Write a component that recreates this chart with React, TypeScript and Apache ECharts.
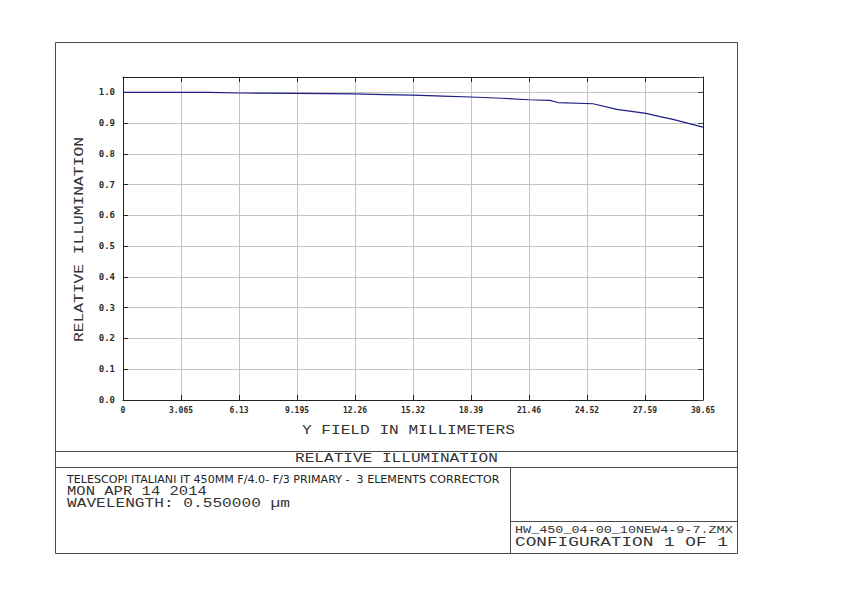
import React, { useEffect, useRef } from "react";
import * as echarts from "echarts";

// ---- data ----
const fieldMm = [0, 2.0, 4.6, 6.13, 9.195, 12.26, 13.8, 15.32, 16.9, 18.39, 20.0, 21.45, 22.56, 22.99, 24.84, 26.1, 27.64, 28.38, 29.06, 30.65];
const relIllum = [1.0, 1.0, 1.0, 0.998, 0.997, 0.995, 0.993, 0.991, 0.988, 0.985, 0.981, 0.976, 0.974, 0.967, 0.963, 0.945, 0.932, 0.921, 0.912, 0.887];
const xTickLabels = ["0", "3.065", "6.13", "9.195", "12.26", "15.32", "18.39", "21.46", "24.52", "27.59", "30.65"];
const yTickLabels = ["0.0", "0.1", "0.2", "0.3", "0.4", "0.5", "0.6", "0.7", "0.8", "0.9", "1.0"];

const xStep = 3.065;
const xMax = 30.65;
const yStep = 0.1;
const yMax = 1.05;

const titleText = "RELATIVE ILLUMINATION";
const xName = "Y FIELD IN MILLIMETERS";
const yName = "RELATIVE ILLUMINATION";
const infoLine1 = "TELESCOPI ITALIANI IT 450MM F/4.0- F/3 PRIMARY -  3 ELEMENTS CORRECTOR";
const infoLine2 = "MON APR 14 2014";
const infoLine3 = "WAVELENGTH: 0.550000 \u00b5m";
const fileLine = "HW_450_04-00_10NEW4-9-7.ZMX";
const configLine = "CONFIGURATION 1 OF 1";

const MONO = '"DejaVu Sans Mono", monospace';
const THIN = '"Liberation Mono", "DejaVu Sans Mono", monospace';
const SANS = '"DejaVu Sans", sans-serif';

let measureCtx: CanvasRenderingContext2D | null = null;
function measure(text: string, font: string): number {
  if (!measureCtx) {
    const c = document.createElement("canvas");
    measureCtx = c.getContext("2d");
  }
  if (!measureCtx) return text.length * 7;
  measureCtx.font = font;
  return measureCtx.measureText(text).width;
}

function fitText(text: string, left: number, right: number, cy: number, size: number, family: string, fill: string, rotate = false) {
  const font = `${size}px ${family}`;
  const w = measure(text, font);
  const sx = Math.abs(right - left) / w;
  return {
    type: "text",
    x: rotate ? cy : left,
    y: rotate ? left : cy,
    rotation: rotate ? Math.PI / 2 : 0,
    scaleX: sx,
    scaleY: 1,
    silent: true,
    style: {
      text,
      font,
      fill,
      textAlign: "left",
      textVerticalAlign: "middle",
      align: "left",
      verticalAlign: "middle",
    },
  };
}

function frameLine(x1: number, y1: number, x2: number, y2: number) {
  return {
    type: "line",
    silent: true,
    shape: { x1, y1, x2, y2 },
    style: { stroke: "#4a4a4a", lineWidth: 1 },
  };
}

export default function App() {
  const ref = useRef<HTMLDivElement>(null);

  useEffect(() => {
    if (!ref.current) return;
    const chart = echarts.init(ref.current, undefined, { renderer: "svg" });

    const textColor = "#333";
    const graphics: any[] = [
      {
        type: "rect",
        silent: true,
        shape: { x: 55.5, y: 42.5, width: 682, height: 511 },
        style: { fill: "none", stroke: "#4a4a4a", lineWidth: 1 },
      },
      frameLine(55.5, 451.5, 737.5, 451.5),
      frameLine(55.5, 467.5, 737.5, 467.5),
      frameLine(510.5, 467.5, 510.5, 553.5),
      frameLine(510.5, 521.5, 737.5, 521.5),
      fitText(xName, 302, 515, 430, 13, THIN, textColor),
      fitText(titleText, 295, 498, 459, 12.5, THIN, textColor),
      fitText(yName, 342, 137, 79, 13, THIN, textColor, true),
      fitText(infoLine1, 67, 500, 479.5, 10.5, SANS, "#222"),
      fitText(infoLine2, 67, 207, 491, 12.5, THIN, textColor),
      fitText(infoLine3, 67, 290, 503.5, 12.5, THIN, textColor),
      fitText(fileLine, 515, 733, 530.5, 11.5, THIN, textColor),
      fitText(configLine, 515, 728, 543, 12.5, THIN, textColor),
    ];

    const tickLabelStyle = {
      fontFamily: MONO,
      fontWeight: "bold" as const,
      color: "#2a2a2a",
    };

    const option: any = {
      animation: false,
      backgroundColor: "#ffffff",
      grid: { left: 123, top: 77, width: 580, height: 323, containLabel: false },
      xAxis: [
        {
          type: "value",
          min: 0,
          max: xMax,
          interval: xStep,
          position: "bottom",
          axisLine: { show: true, onZero: false, lineStyle: { color: "#222", width: 1 } },
          axisTick: { show: true, inside: true, length: 5, lineStyle: { color: "#222", width: 1 } },
          axisLabel: {
            ...tickLabelStyle,
            fontSize: 8,
            margin: 6,
            showMinLabel: true,
            showMaxLabel: true,
            formatter: (v: number) => xTickLabels[Math.round(v / xStep)] ?? "",
          },
          splitLine: { show: true, lineStyle: { color: "#c4c4c4", width: 1 } },
        },
        {
          type: "value",
          min: 0,
          max: xMax,
          interval: xStep,
          position: "top",
          axisLine: { show: true, onZero: false, lineStyle: { color: "#222", width: 1 } },
          axisTick: { show: true, inside: true, length: 5, lineStyle: { color: "#222", width: 1 } },
          axisLabel: { show: false },
          splitLine: { show: false },
        },
      ],
      yAxis: [
        {
          type: "value",
          min: 0,
          max: yMax,
          interval: yStep,
          position: "left",
          axisLine: { show: true, onZero: false, lineStyle: { color: "#222", width: 1 } },
          axisTick: { show: true, inside: true, length: 5, lineStyle: { color: "#222", width: 1 } },
          axisLabel: {
            ...tickLabelStyle,
            fontSize: 9,
            margin: 8,
            formatter: (v: number) => (v > 1.0001 ? "" : yTickLabels[Math.round(v / yStep)] ?? ""),
          },
          splitLine: { show: true, lineStyle: { color: "#c4c4c4", width: 1 } },
        },
        {
          type: "value",
          min: 0,
          max: yMax,
          interval: yStep,
          position: "right",
          axisLine: { show: true, onZero: false, lineStyle: { color: "#222", width: 1 } },
          axisTick: { show: true, inside: true, length: 5, lineStyle: { color: "#444", width: 1 } },
          axisLabel: { show: false },
          splitLine: { show: false },
        },
      ],
      series: [
        {
          type: "line",
          xAxisIndex: 0,
          yAxisIndex: 0,
          data: fieldMm.map((x, i) => [x, relIllum[i]]),
          showSymbol: false,
          symbol: "none",
          lineStyle: { color: "#1e1e86", width: 1.2 },
          silent: true,
        },
      ],
      graphic: graphics,
    };

    chart.setOption(option);
    return () => chart.dispose();
  }, []);

  return (
    <div
      ref={ref}
      style={{ position: "fixed", left: 0, top: 0, width: 842, height: 595, background: "#fff" }}
    />
  );
}
